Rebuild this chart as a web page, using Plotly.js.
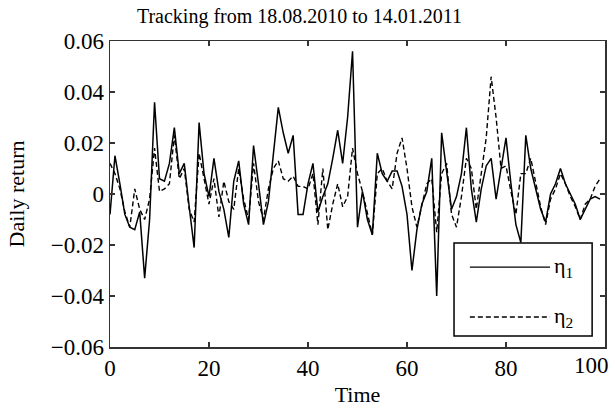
<!DOCTYPE html>
<html>
<head>
<meta charset="utf-8">
<script src="https://cdn.plot.ly/plotly-3.0.1.min.js"></script>
<style>html,body{margin:0;padding:0;background:#fff;}#chart{width:615px;height:410px;}</style>
</head>
<body>
<div id="chart"></div>
<script>
// Time index
const time = [];
for (let i = 0; i < 100; i++) time.push(i);

// eta_1 (solid)
const eta1 = [
  -0.008, 0.015, 0.004, -0.008, -0.013, -0.014, -0.007, -0.033, -0.010, 0.036,
   0.006, 0.005, 0.012, 0.026, 0.008, 0.012, -0.005, -0.021, 0.028, 0.008,
  -0.001, 0.014, 0.001, -0.006, -0.017, 0.005, 0.013, -0.004, -0.012, 0.019,
   0.004, -0.012, -0.003, 0.015, 0.034, 0.024, 0.016, 0.023, -0.008, -0.008,
   0.004, 0.012, -0.007, -0.001, 0.004, 0.014, 0.025, 0.012, 0.030, 0.056,
  -0.013, 0.001, -0.010, -0.016, 0.016, 0.008, 0.005, 0.009, 0.009, 0.003,
  -0.008, -0.030, -0.014, -0.004, 0.001, 0.014, -0.040, 0.024, 0.010, -0.006,
  -0.001, 0.008, 0.026, 0.002, -0.011, 0.002, 0.011, 0.014, -0.002, 0.010,
   0.022, 0.004, -0.012, -0.019, 0.023, 0.010, 0.002, -0.006, -0.011, 0.000,
   0.004, 0.010, 0.004, 0.000, -0.004, -0.010, -0.006, -0.002, -0.001, -0.002
];

// eta_2 (dashed)
const eta2 = [
   0.012, 0.008, 0.002, -0.007, -0.013, 0.002, -0.006, -0.010, -0.002, 0.018,
   0.001, 0.002, 0.004, 0.023, 0.006, 0.010, -0.006, -0.011, 0.016, 0.006,
  -0.004, 0.006, -0.009, 0.005, -0.003, -0.006, 0.010, -0.002, -0.010, 0.012,
  -0.003, -0.010, 0.002, 0.010, 0.013, 0.006, 0.005, 0.007, 0.003, 0.003,
   0.002, 0.008, -0.012, 0.010, -0.014, -0.004, 0.004, -0.005, -0.001, 0.018,
   0.008, 0.001, -0.008, -0.016, 0.008, 0.010, 0.005, 0.002, 0.016, 0.022,
   0.010, -0.005, -0.013, -0.005, 0.004, 0.006, -0.015, 0.008, 0.012, -0.008,
  -0.013, -0.001, 0.014, 0.010, -0.006, 0.008, 0.022, 0.046, 0.030, 0.010,
   0.011, 0.001, -0.008, 0.008, 0.008, 0.014, 0.004, -0.005, -0.012, -0.002,
   0.002, 0.008, 0.004, -0.001, -0.005, -0.010, -0.004, -0.002, 0.003, 0.006
];

const xTickVals = [0, 20, 40, 60, 80];
const xTickText = ['0', '20', '40', '60', '80'];
const xLastTick = 100;
const xLastTickText = '100';

const seriesNames = ['η<sub>1</sub>', 'η<sub>2</sub>'];
const titleText = 'Tracking from 18.08.2010 to 14.01.2011';
const xTitle = 'Time';
const yTitle = 'Daily return';

const FONT = 'Liberation Serif';

const traces = [
  {x: time, y: eta1, type: 'scatter', mode: 'lines', name: seriesNames[0],
   line: {color: '#000', width: 1.5}, showlegend: false},
  {x: time, y: eta2, type: 'scatter', mode: 'lines', name: seriesNames[1],
   line: {color: '#000', width: 1.4, dash: '5px,3px'}, showlegend: false}
];

const axisCommon = {
  showgrid: false, zeroline: false, showline: true, linecolor: '#333', linewidth: 1.5,
  mirror: 'ticks', ticks: 'inside', ticklen: 5, tickwidth: 1.2, tickcolor: '#333',
  tickfont: {family: FONT, size: 23, color: '#000'}
};

const layout = {
  width: 615, height: 410,
  margin: {l: 110, r: 10, t: 41, b: 63},
  paper_bgcolor: '#fff', plot_bgcolor: '#fff',
  font: {family: FONT, color: '#000'},
  showlegend: false,
  title: {text: titleText, font: {family: FONT, size: 20, color: '#000'},
          x: 0.487, xref: 'container', xanchor: 'center', y: 0.96, yref: 'container', yanchor: 'middle'},
  xaxis: Object.assign({}, axisCommon, {range: [0, 100], tickmode: 'array',
          tickvals: xTickVals.concat([xLastTick]), ticktext: xTickText.concat(['']),
          title: {text: xTitle, font: {family: FONT, size: 22, color: '#000'}, standoff: 6}}),
  yaxis: Object.assign({}, axisCommon, {range: [-0.06, 0.06], tick0: 0, dtick: 0.02,
          title: {text: yTitle, font: {family: FONT, size: 22, color: '#000'}, standoff: 20}}),
  shapes: [
    {type: 'rect', xref: 'paper', yref: 'paper', x0: 0.695, x1: 0.974, y0: 0.036, y1: 0.340,
     line: {color: '#000', width: 1.5}, fillcolor: '#fff'},
    {type: 'line', xref: 'paper', yref: 'paper', x0: 0.727, x1: 0.889, y0: 0.261, y1: 0.261,
     line: {color: '#000', width: 1.4}},
    {type: 'line', xref: 'paper', yref: 'paper', x0: 0.727, x1: 0.889, y0: 0.098, y1: 0.098,
     line: {color: '#000', width: 1.4, dash: '5px,3px'}}
  ],
  annotations: [
    {xref: 'paper', yref: 'paper', x: 0.893, y: 0.261, xanchor: 'left', yanchor: 'middle',
     text: seriesNames[0], showarrow: false, font: {family: FONT, size: 22, color: '#000'}},
    {xref: 'paper', yref: 'paper', x: 0.893, y: 0.098, xanchor: 'left', yanchor: 'middle',
     text: seriesNames[1], showarrow: false, font: {family: FONT, size: 22, color: '#000'}},
    {xref: 'x', yref: 'paper', x: xLastTick, y: 0, xanchor: 'right', yanchor: 'top',
     xshift: 6, yshift: -4, text: xLastTickText, showarrow: false,
     font: {family: FONT, size: 23, color: '#000'}}
  ]
};

Plotly.newPlot('chart', traces, layout, {displayModeBar: false, staticPlot: true});
</script>
</body>
</html>
